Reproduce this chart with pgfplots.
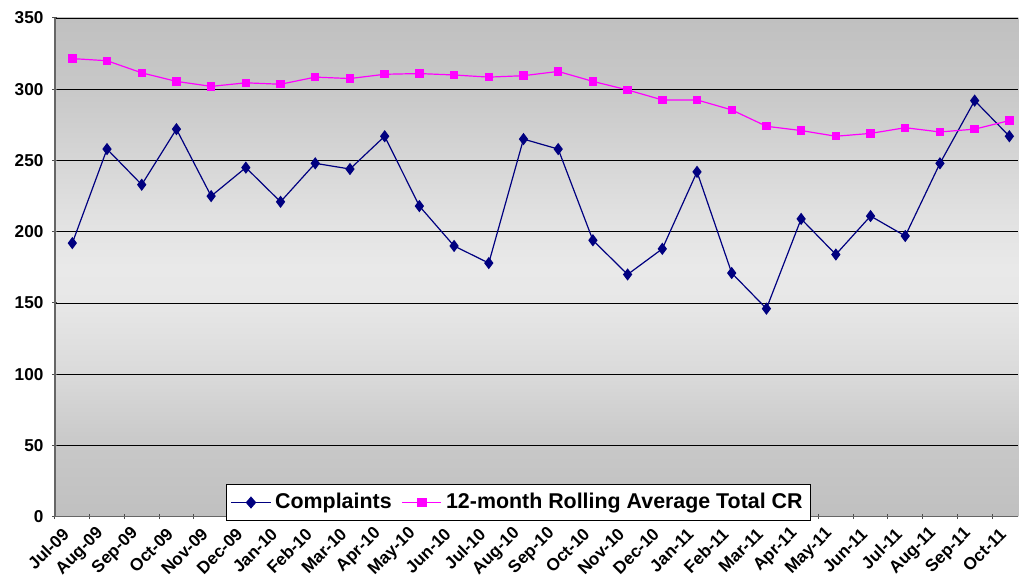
\documentclass[border=0pt]{standalone}
\usepackage{pgfplots}
\pgfplotsset{compat=1.18}
\usepackage{fontspec}
\setmainfont{Liberation Sans}
\definecolor{cnavy}{HTML}{000080}
\definecolor{cmag}{HTML}{FF00FF}
\definecolor{g0}{HTML}{C0C0C0}
\definecolor{g1}{HTML}{C8C8C8}
\definecolor{g2}{HTML}{DADADA}
\definecolor{g3}{HTML}{E7E7E7}
\definecolor{g4}{HTML}{E9E9E9}
\definecolor{g5}{HTML}{E4E4E4}
\definecolor{g6}{HTML}{D6D6D6}
\pgfdeclareverticalshading{bgshade}{100bp}{color(0bp)=(g0); color(25bp)=(g0); color(32.14bp)=(g1); color(39.29bp)=(g2); color(46.43bp)=(g3); color(50bp)=(g4); color(53.57bp)=(g5); color(60.71bp)=(g6); color(67.86bp)=(g1); color(75bp)=(g0); color(100bp)=(g0)}
\pgfplotstableread{
x c r
0 192 321.5
1 258 320
2 233 311.5
3 272 305.5
4 225 302
5 245 304.5
6 221 303.5
7 248 308.5
8 244 307.5
9 267 310.5
10 218 311
11 190 310
12 178 308.5
13 265 309.5
14 258 312.5
15 194 305.5
16 170 299.5
17 188 292.5
18 242 292.5
19 171 285.5
20 146 274
21 209 271
22 184 267
23 211 269
24 197 273
25 248 270
26 292 272
27 267 278
}\datatable
\begin{document}
\begin{tikzpicture}
\begin{axis}[
  scale only axis,
  width=482pt, height=249.5pt,
  xmin=-0.5, xmax=27.26,
  ymin=0, ymax=350,
  ytick={0,50,...,350},
  xtick={0,...,27},
  xticklabels={Jul-09,Aug-09,Sep-09,Oct-09,Nov-09,Dec-09,Jan-10,Feb-10,Mar-10,Apr-10,May-10,Jun-10,Jul-10,Aug-10,Sep-10,Oct-10,Nov-10,Dec-10,Jan-11,Feb-11,Mar-11,Apr-11,May-11,Jun-11,Jul-11,Aug-11,Sep-11,Oct-11},
  minor xtick={-0.5,0.5,...,27.5},
  major x tick style={draw=none},
  minor tick length=2.5pt,
  major tick length=2.5pt,
  tick align=outside,
  tick style={black!70, line width=0.5pt},
  axis lines=left,
  axis line style={-, black!60, line width=0.6pt},
  ymajorgrids,
  grid style={black, line width=0.45pt},
  axis background/.style={shade, shading=bgshade},
  /pgf/number format/assume math mode=true,
  ticklabel style={font=\bfseries\fontsize{8.6}{9.2}\selectfont},
  yticklabel style={xshift=-1pt},
  xticklabel style={rotate=45, anchor=east, xshift=-3pt, yshift=-2pt},
  legend style={at={(0.1774,-0.008)}, anchor=south west, draw=black, line width=0.5pt, fill=white,
    font=\bfseries\fontsize{10.7}{11.5}\selectfont, legend columns=2,
    inner sep=2.2pt, /tikz/every even column/.append style={column sep=3pt}},
  legend image post style={xscale=1.15},
  legend cell align=left,
  clip=false,
]
\addplot[cnavy, line width=0.6pt, mark=diamond*, mark size=2.6pt, mark options={fill=cnavy, draw=cnavy}] table[x=x, y=c] {\datatable};
\addlegendentry{Complaints}
\addplot[cmag, line width=0.6pt, mark=square*, mark size=1.8pt, mark options={fill=cmag, draw=cmag}] table[x=x, y=r] {\datatable};
\addlegendentry{12-month Rolling Average Total CR}
\end{axis}
\path[use as bounding box] (-27.5pt,-35.5pt) rectangle (482pt,258.5pt);
\end{tikzpicture}
\end{document}
